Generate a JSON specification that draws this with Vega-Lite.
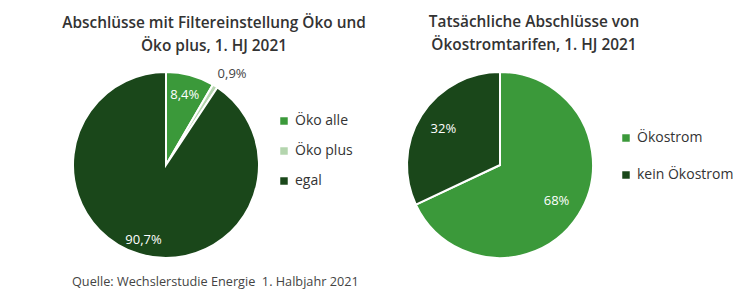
{
  "$schema": "https://vega.github.io/schema/vega-lite/v6.json",
  "background": "white",
  "padding": {"left": 62, "top": 14, "right": 0, "bottom": 0},
  "config": {"view": {"stroke": null}, "font": "Open Sans", "concat": {"spacing": 37}},
  "title": {"text": "Quelle: Wechslerstudie Energie\u00a0 1. Halbjahr 2021", "orient": "bottom", "anchor": "start", "frame": "group", "fontSize": 12.7, "fontWeight": "normal", "color": "#444", "dx": -1, "offset": -3},
  "resolve": {"scale": {"color": "independent", "theta": "independent"}, "legend": {"color": "independent"}},
  "hconcat": [
    {
      "width": 186, "height": 186,
      "title": {"text": ["Abschlüsse mit Filtereinstellung Öko und", "Öko plus, 1. HJ 2021"], "fontSize": 15.4, "fontWeight": 600, "color": "#333", "lineHeight": 23, "anchor": "middle", "frame": "group", "dx": 48, "offset": 0},
      "data": {"values": [
        {"cat": "Öko alle", "value": 8.4, "label": "8,4%", "rank": 1},
        {"cat": "Öko plus", "value": 0.9, "label": "0,9%", "rank": 2},
        {"cat": "egal", "value": 90.7, "label": "90,7%", "rank": 3}
      ]},
      "encoding": {
        "theta": {"field": "value", "type": "quantitative", "stack": true},
        "order": {"field": "rank", "type": "quantitative", "sort": "ascending"}
      },
      "layer": [
        {
          "mark": {"type": "arc", "stroke": "white", "strokeWidth": 2},
          "encoding": {
            "color": {"field": "cat", "type": "nominal",
              "scale": {"domain": ["Öko alle", "Öko plus", "egal"], "range": ["#3b993a", "#b4d5ae", "#1a471a"]},
              "legend": {"orient": "none", "legendX": 204, "legendY": 42, "title": null, "symbolType": "square", "symbolSize": 56, "symbolStrokeWidth": 0, "labelFontSize": 14, "labelColor": "#333", "labelFont": "Open Sans", "rowPadding": 16, "padding": 0}
            }
          }
        },
        {
          "mark": {"type": "text", "radius": 72, "fill": "white", "fontSize": 13},
          "encoding": {"text": {"condition": {"test": "datum.cat !== 'Öko alle'", "value": ""}, "field": "label"}}
        },
        {
          "mark": {"type": "text", "radius": 78, "fill": "white", "fontSize": 13},
          "encoding": {"text": {"condition": {"test": "datum.cat !== 'egal'", "value": ""}, "field": "label"}}
        },
        {
          "mark": {"type": "text", "radius": 110, "dx": 8, "dy": 2, "fill": "#444", "fontSize": 13},
          "encoding": {"text": {"condition": {"test": "datum.cat !== 'Öko plus'", "value": ""}, "field": "label"}}
        }
      ]
    },
    {
      "width": 186, "height": 186,
      "title": {"text": ["Tatsächliche Abschlüsse von", "Ökostromtarifen, 1. HJ 2021"], "fontSize": 15.4, "fontWeight": 600, "color": "#333", "lineHeight": 23, "anchor": "middle", "frame": "group", "dx": 34, "offset": 15},
      "data": {"values": [
        {"cat": "Ökostrom", "value": 68, "label": "68%", "rank": 1},
        {"cat": "kein Ökostrom", "value": 32, "label": "32%", "rank": 2}
      ]},
      "encoding": {
        "theta": {"field": "value", "type": "quantitative", "stack": true},
        "order": {"field": "rank", "type": "quantitative", "sort": "ascending"}
      },
      "layer": [
        {
          "mark": {"type": "arc", "stroke": "white", "strokeWidth": 2},
          "encoding": {
            "color": {"field": "cat", "type": "nominal",
              "scale": {"domain": ["Ökostrom", "kein Ökostrom"], "range": ["#3b993a", "#1a471a"]},
              "legend": {"orient": "none", "legendX": 212, "legendY": 59, "title": null, "symbolType": "square", "symbolSize": 56, "symbolStrokeWidth": 0, "labelFontSize": 14, "labelColor": "#333", "labelFont": "Open Sans", "rowPadding": 23, "padding": 0}
            }
          }
        },
        {
          "mark": {"type": "text", "radius": 67, "fill": "white", "fontSize": 13},
          "encoding": {"text": {"field": "label"}}
        }
      ]
    }
  ]
}
